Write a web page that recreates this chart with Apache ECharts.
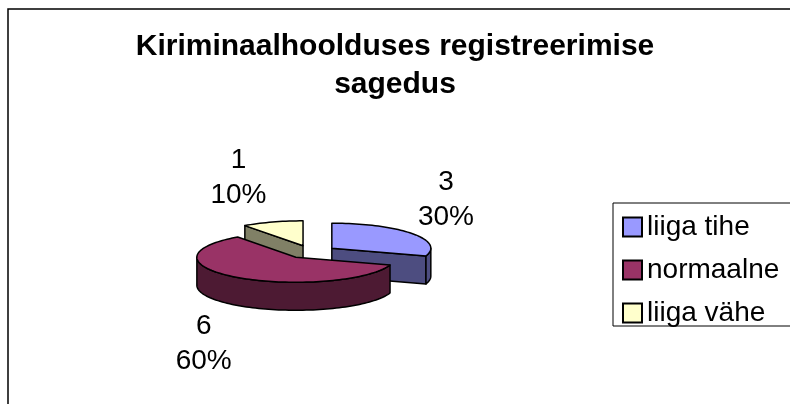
<!DOCTYPE html>
<html>
<head>
<meta charset="utf-8">
<script src="https://cdn.jsdelivr.net/npm/echarts@6/dist/echarts.min.js"></script>
<style>
  html, body { margin: 0; padding: 0; background: #fff; }
  #chart { width: 790px; height: 404px; }
</style>
</head>
<body>
<div id="chart"></div>
<script>
// andmed
var categories = ['liiga tihe', 'normaalne', 'liiga vähe'];
var values = [3, 6, 1];

// värvid: pealmine pind ja külg
var topColors = ['#9999FF', '#993366', '#FFFFCC'];
var sideColors = ['#4D4D80', '#4D1A33', '#808066'];

/** 3D piruka geomeetria */
var pie = {
    cx: 311, cy: 252,   // keskpunkt
    rx: 99, ry: 25,     // ellipsi poolteljed
    depth: 28,          // paksus
    explode: 0.26       // väljatõmme raadiuse suhtes
};

var FONT = '"Liberation Sans", Arial, sans-serif';
var total = values.reduce(function (s, v) { return s + v; }, 0);

// iga lõigu nurgad (päripäeva, 0 = üleval)
var slices = [];
var acc = 0;
values.forEach(function (v, i) {
    var t0 = acc / total * Math.PI * 2;
    acc += v;
    var t1 = acc / total * Math.PI * 2;
    slices.push({t0: t0, t1: t1, mid: (t0 + t1) / 2});
});

function arc(sx, sy, ta, tb, dz) {
    var pts = [];
    var n = Math.max(2, Math.ceil((tb - ta) / (Math.PI / 90)));
    for (var k = 0; k <= n; k++) {
        var t = ta + (tb - ta) * k / n;
        pts.push([sx + pie.rx * Math.sin(t), sy - pie.ry * Math.cos(t) + dz]);
    }
    return pts;
}

function renderSlice(params, api) {
    var i = params.seriesIndex;
    var s = slices[i];
    var sx = pie.cx + pie.explode * pie.rx * Math.sin(s.mid);
    var sy = pie.cy - pie.explode * pie.ry * Math.cos(s.mid);
    var d = pie.depth;
    var line = {stroke: '#000', lineWidth: 1.5, lineJoin: 'round'};
    var children = [];

    function face(points, fill, z2) {
        children.push({
            type: 'polygon', z2: z2,
            shape: {points: points},
            style: Object.assign({fill: fill}, line)
        });
    }

    // lõike pinnad
    if (Math.sin(s.t0) < -1e-6) {
        var p0 = arc(sx, sy, s.t0, s.t0, 0)[0];
        face([[sx, sy], p0, [p0[0], p0[1] + d], [sx, sy + d]], sideColors[i], 1);
    }
    if (Math.sin(s.t1) > 1e-6) {
        var p1 = arc(sx, sy, s.t1, s.t1, 0)[0];
        face([[sx, sy], p1, [p1[0], p1[1] + d], [sx, sy + d]], sideColors[i], 1);
    }
    // välisserv (ainult eesmine pool)
    var u0 = Math.max(s.t0, Math.PI / 2), u1 = Math.min(s.t1, Math.PI * 1.5);
    if (u1 > u0) {
        var topArc = arc(sx, sy, u0, u1, 0);
        var botArc = arc(sx, sy, u0, u1, d).reverse();
        face(topArc.concat(botArc), sideColors[i], 2);
    }
    // pealmine pind
    face([[sx, sy]].concat(arc(sx, sy, s.t0, s.t1, 0)), topColors[i], 3);

    // silt
    var rim = arc(sx, sy, s.mid, s.mid, Math.cos(s.mid) < 0 ? d : 0)[0];
    var off = 50 - 20 * Math.abs(Math.sin(s.mid));
    var lx = rim[0] + (Math.sin(s.mid) >= 0 ? 34 : -34);
    var ly = rim[1] + (Math.cos(s.mid) >= 0 ? -off : off);
    var pct = Math.round(values[i] / total * 100) + '%';
    children.push({
        type: 'text', z2: 10,
        style: {
            text: values[i] + '\n' + pct,
            x: lx, y: ly,
            align: 'center', verticalAlign: 'middle',
            font: '28px ' + FONT, lineHeight: 35,
            fill: '#000'
        }
    });
    return {type: 'group', children: children};
}

// joonistamise järjekord: tagumised enne
var series = categories.map(function (name, i) {
    var depthKey = -Math.cos(slices[i].mid);
    var rank = slices.filter(function (o) { return -Math.cos(o.mid) < depthKey; }).length;
    return {
        name: name,
        type: 'custom',
        coordinateSystem: 'none',
        z: 2 + rank,
        itemStyle: {color: topColors[i]},
        renderItem: renderSlice,
        data: [values[i]]
    };
});

var myChart = echarts.init(document.getElementById('chart'));
var option = {
    animation: false,
    backgroundColor: '#fff',
    title: {
        text: 'Kiriminaalhoolduses registreerimise\nsagedus',
        left: 'center',
        top: 28,
        padding: 0,
        textStyle: {
            fontFamily: FONT, fontSize: 30, fontWeight: 'bold',
            color: '#000', lineHeight: 38
        }
    },
    legend: {
        orient: 'vertical',
        left: 622, top: 213,
        padding: 0,
        icon: 'rect',
        itemWidth: 19, itemHeight: 19,
        itemGap: 15,
        itemStyle: {borderColor: '#000', borderWidth: 2},
        textStyle: {fontFamily: FONT, fontSize: 28, color: '#000'},
        data: categories
    },
    graphic: [
        {type: 'rect', shape: {x: 8, y: 9, width: 820, height: 440},
         style: {fill: 'none', stroke: '#000', lineWidth: 1.5}, silent: true, z: 0},
        {type: 'rect', shape: {x: 613, y: 203, width: 190, height: 123},
         style: {fill: 'none', stroke: '#000', lineWidth: 1}, silent: true, z: 0}
    ],
    series: series
};
myChart.setOption(option);
</script>
</body>
</html>
